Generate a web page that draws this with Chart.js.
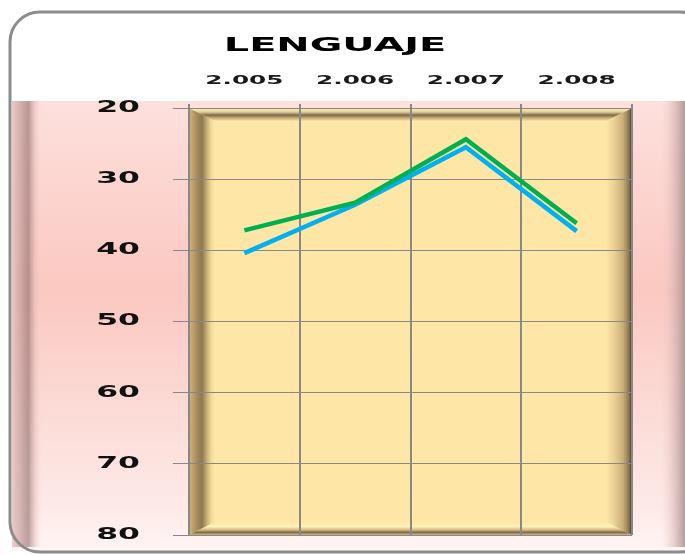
<!DOCTYPE html>
<html>
<head>
<meta charset="utf-8">
<script src="https://cdn.jsdelivr.net/npm/chart.js@4.4.0/dist/chart.umd.min.js"></script>
<style>
  html, body { margin: 0; padding: 0; background: #fff; }
  #wrap { width: 685px; height: 555px; }
</style>
</head>
<body>
<div id="wrap"><canvas id="lineChart"></canvas></div>
<script>
const years = ['2.005', '2.006', '2.007', '2.008'];
const blueValues = [40.4, 33.6, 25.5, 37.3];
const greenValues = [37.2, 33.3, 24.4, 36.2];
const yTicks = [20, 30, 40, 50, 60, 70, 80];

// the original lettering is stretched sideways; scale each text draw around its anchor
const textStretch = { '20px': 1.99, '13px': 1.9, '15px': 2.1 };
const stretch = {
  id: 'stretch',
  beforeInit(chart) {
    const c = chart.ctx;
    const fill = c.fillText;
    c.fillText = function(text, x, y, maxWidth) {
      const m = /(\d+)px/.exec(c.font);
      const sx = (m && textStretch[m[1] + 'px']) || 1;
      c.save();
      c.translate(x, y);
      c.scale(sx, 1);
      if (maxWidth === undefined) fill.call(c, text, 0, 0);
      else fill.call(c, text, 0, 0, maxWidth / sx);
      c.restore();
    };
  }
};

function grad(ctx, x0, y0, x1, y1, stops) {
  var g = ctx.createLinearGradient(x0, y0, x1, y1);
  stops.forEach(function(s) { g.addColorStop(s[0], s[1]); });
  return g;
}

function poly(ctx, pts, style) {
  ctx.beginPath();
  ctx.moveTo(pts[0][0], pts[0][1]);
  for (var i = 1; i < pts.length; i++) ctx.lineTo(pts[i][0], pts[i][1]);
  ctx.closePath();
  ctx.fillStyle = style;
  ctx.fill();
}

// white card with pink band, rounded frame and the bevelled beige plot area
const frame = {
  id: 'frame',
  beforeDraw(chart) {
    const ctx = chart.ctx;
    const a = chart.chartArea;
    ctx.save();
    ctx.fillStyle = '#fff';
    ctx.fillRect(0, 0, chart.width, chart.height);

    ctx.fillStyle = grad(ctx, 0, 101, 0, 552, [[0, '#fde0dc'], [0.42, '#fbc8c1'], [0.9, '#fdeae7'], [1, '#fff6f5']]);
    ctx.fillRect(12, 101, 673, 450);
    // left edge shading
    ctx.fillStyle = grad(ctx, 12, 0, 42, 0, [[0, 'rgba(235,200,198,0.9)'], [0.25, 'rgba(200,160,158,0.7)'],
      [0.55, 'rgba(140,105,102,0.6)'], [0.75, 'rgba(220,180,176,0.5)'], [1, 'rgba(250,215,210,0)']]);
    ctx.fillRect(12, 101, 30, 446);
    // right edge shading
    ctx.fillStyle = grad(ctx, 660, 0, 685, 0, [[0, 'rgba(250,210,205,0)'], [0.6, 'rgba(205,170,168,0.55)'],
      [1, 'rgba(165,140,140,0.85)']]);
    ctx.fillRect(660, 101, 25, 446);

    ctx.strokeStyle = '#8c8c8c';
    ctx.lineWidth = 3;
    ctx.beginPath();
    ctx.roundRect(10, 12, 700, 540, 30);
    ctx.stroke();

    // plot area with a mitred bevel
    const L = a.left, R = a.right, T = a.top, B = a.bottom;
    const wl = 26, wr = 26, wt = 13, wb = 13;
    ctx.fillStyle = '#fde6a6';
    ctx.fillRect(L, T, a.width, a.height);
    poly(ctx, [[L, T], [L + wl, T + wt], [L + wl, B - wb], [L, B]],
      grad(ctx, L, 0, L + wl, 0, [[0, '#d2b47e'], [0.3, '#a88c5c'], [0.5, '#8c7850'], [0.7, '#cdb079'],
        [0.85, '#f2d898'], [1, '#fde6a6']]));
    poly(ctx, [[R, T], [R, B], [R - wr, B - wb], [R - wr, T + wt]],
      grad(ctx, R - wr, 0, R, 0, [[0, '#fde6a6'], [0.3, '#ecd296'], [0.65, '#caae78'], [0.88, '#8c7850'],
        [1, '#3c3020']]));
    poly(ctx, [[L, T], [R, T], [R - wr, T + wt], [L + wl, T + wt]],
      grad(ctx, 0, T, 0, T + wt, [[0, '#fff4c4'], [0.3, '#e6cf98'], [0.55, '#7d6a48'], [0.75, '#c0a474'],
        [1, '#fde6a6']]));
    poly(ctx, [[L, B], [L + wl, B - wb], [R - wr, B - wb], [R, B]],
      grad(ctx, 0, B - wb, 0, B, [[0, '#fde6a6'], [0.35, '#fff3b8'], [0.6, '#d6bb85'], [0.8, '#7d6a48'],
        [1, '#d6bb85']]));
    ctx.restore();
  }
};

const ctx = document.getElementById('lineChart').getContext('2d');

const lenguajeChart = new Chart(ctx, {
  type: 'line',
  data: {
    labels: years,
    datasets: [{
      label: 'Serie 2',
      data: greenValues,
      borderColor: '#00b050',
      borderWidth: 4.5,
      pointRadius: 0,
      tension: 0
    }, {
      label: 'Serie 1',
      data: blueValues,
      borderColor: '#00b0f0',
      borderWidth: 4.5,
      pointRadius: 0,
      tension: 0
    }]
  },
  options: {
    responsive: true,
    maintainAspectRatio: false,
    animation: false,
    layout: { padding: { top: 33.5, right: 53, bottom: 20, left: 38 } },
    plugins: {
      legend: { display: false },
      tooltip: { enabled: false },
      title: {
        display: true,
        text: 'LENGUAJE',
        color: '#000',
        padding: 0,
        font: { family: 'DejaVu Sans', size: 20, weight: 'bold', lineHeight: 1.2 }
      }
    },
    scales: {
      x: {
        position: 'top',
        offset: true,
        grid: { offset: true, color: '#888', lineWidth: 2, tickLength: 4 },
        border: { display: false },
        ticks: {
          color: '#1a1a1a',
          padding: 16,
          font: { family: 'DejaVu Sans', size: 13, weight: 'bold' }
        },
        afterFit: function(scale) { scale.height = 50.5; }
      },
      y: {
        reverse: true,
        min: yTicks[0],
        max: yTicks[yTicks.length - 1],
        grid: { color: '#888', lineWidth: 1, tickLength: 16 },
        border: { color: '#888', width: 2 },
        ticks: {
          stepSize: yTicks[1] - yTicks[0],
          color: '#111',
          padding: 33,
          font: { family: 'DejaVu Sans', size: 15, weight: 'bold' }
        },
        afterFit: function(scale) {
          scale.width = 151;
          scale.paddingTop = 10;
          scale.paddingBottom = 10;
        }
      }
    }
  },
  plugins: [stretch, frame]
});
</script>
</body>
</html>
